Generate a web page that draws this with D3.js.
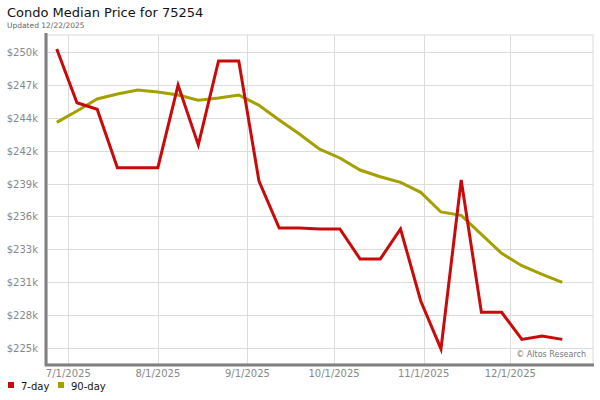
<!DOCTYPE html>
<html><head><meta charset="utf-8">
<script src="https://cdn.jsdelivr.net/npm/d3@7"></script>
<style>body{margin:0;background:#fff;} svg{display:block;font-family:"DejaVu Sans",sans-serif;}</style>
</head><body>
<svg id="c" width="600" height="400"></svg>
<script>
const dates = ["2025-06-27","2025-07-04","2025-07-11","2025-07-18","2025-07-25","2025-08-01","2025-08-08","2025-08-15","2025-08-22","2025-08-29","2025-09-05","2025-09-12","2025-09-19","2025-09-26","2025-10-03","2025-10-10","2025-10-17","2025-10-24","2025-10-31","2025-11-07","2025-11-14","2025-11-21","2025-11-28","2025-12-05","2025-12-12","2025-12-19"];
const day7 = [250.25,245.72,245.16,240.23,240.23,240.23,247.21,242.15,249.24,249.24,239.1,235.13,235.13,235.05,235.05,232.52,232.52,235.05,228.97,224.92,239.19,228.01,228.01,225.73,226.01,225.73];
const day90 = [244.06,245.02,246.03,246.45,246.79,246.62,246.37,245.92,246.11,246.37,245.5,244.26,243.07,241.8,241.05,240.03,239.46,238.99,238.15,236.49,236.2,234.6,233.0,231.95,231.22,230.55];
const xTickLabels = ["7/1/2025","8/1/2025","9/1/2025","10/1/2025","11/1/2025","12/1/2025"];
const yTicks = [225,227.78,230.56,233.33,236.11,238.89,241.67,244.44,247.22,250];
const seriesNames = ["7-day","90-day"];
const colors = ["#c80a0a","#a3a000"];

const parse = d3.timeParse("%Y-%m-%d");
const parseTick = d3.timeParse("%m/%d/%Y");
const svg = d3.select("#c");
const L = 47, R = 593, T = 35, B = 364;
const x = d3.scaleTime().domain([parse("2025-06-23"), parse("2025-12-30")]).range([L, R]);
// calibrate: 7/1 at ~68, 12/1 at ~510
x.domain([parse("2025-06-23"), parse("2025-12-30")]);
const d0 = parseTick("7/1/2025"), d1 = parseTick("12/1/2025");
const px0 = 68.3, px1 = 510.3;
const msPerPx = (d1 - d0) / (px1 - px0);
x.domain([new Date(+d0 - (px0 - L) * msPerPx), new Date(+d1 + (R - px1) * msPerPx)]);
const y = d3.scaleLinear().domain([225, 250]).range([348, 52]);

// grid
const g = svg.append("g");
g.append("rect").attr("x", L).attr("y", T).attr("width", R - L).attr("height", B - T)
  .attr("fill", "none").attr("stroke", "#dcdcdc").attr("stroke-width", 1);
g.selectAll(".hg").data(yTicks).enter().append("line")
  .attr("x1", L).attr("x2", R).attr("y1", d => Math.round(y(d)) + 0.5).attr("y2", d => Math.round(y(d)) + 0.5)
  .attr("stroke", "#dcdcdc");
g.selectAll(".vg").data(xTickLabels).enter().append("line")
  .attr("y1", T).attr("y2", B).attr("x1", d => Math.round(x(parseTick(d))) + 0.5).attr("x2", d => Math.round(x(parseTick(d))) + 0.5)
  .attr("stroke", "#dcdcdc");

// y labels
svg.selectAll(".yl").data(yTicks).enter().append("text")
  .attr("x", 38).attr("y", d => y(d) + 4).attr("text-anchor", "end")
  .attr("font-size", 10).attr("fill", "#888")
  .text(d => "$" + Math.round(d) + "k");
// x labels
svg.selectAll(".xl").data(xTickLabels).enter().append("text")
  .attr("x", d => x(parseTick(d))).attr("y", 377).attr("text-anchor", "middle")
  .attr("font-size", 10).attr("fill", "#888").text(d => d);

// axes lines
svg.append("line").attr("x1", 46).attr("x2", 46).attr("y1", 33).attr("y2", 366).attr("stroke", "#808080").attr("stroke-width", 3);
svg.append("line").attr("x1", 45).attr("x2", 594).attr("y1", 365).attr("y2", 365).attr("stroke", "#808080").attr("stroke-width", 3);

// lines
const line = d3.line().x((d, i) => x(parse(dates[i]))).y(d => y(d));
[day90, day7].forEach((s, k) => {
  svg.append("path").datum(s).attr("d", line).attr("fill", "none")
    .attr("stroke", k === 0 ? colors[1] : colors[0]).attr("stroke-width", 3)
    .attr("stroke-linejoin", "miter");
});

// watermark
svg.append("text").attr("x", 586).attr("y", 357).attr("text-anchor", "end")
  .attr("font-size", 8).attr("fill", "#777").text("© Altos Research");

// title
svg.append("text").attr("x", 7).attr("y", 17).attr("font-size", 13).attr("fill", "#111").text("Condo Median Price for 75254");
svg.append("text").attr("x", 7).attr("y", 28).attr("font-size", 7.5).attr("fill", "#666").text("Updated 12/22/2025");

// legend
const lx = [8, 58];
seriesNames.forEach((n, i) => {
  svg.append("rect").attr("x", lx[i]).attr("y", 382).attr("width", 6).attr("height", 6).attr("fill", colors[i]);
  svg.append("text").attr("x", lx[i] + 13).attr("y", 390).attr("font-size", 10).attr("fill", "#111").text(n);
});
</script>
</body></html>
